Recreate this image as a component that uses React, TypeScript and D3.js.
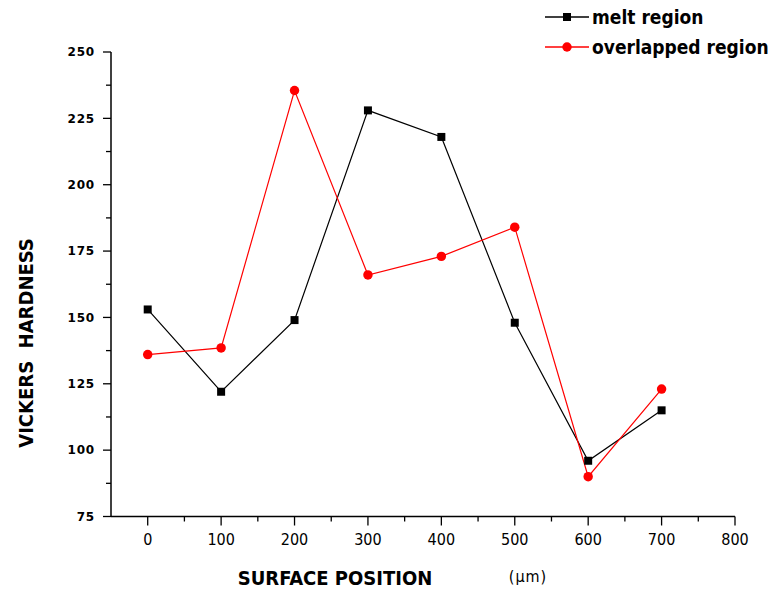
import React, { useRef, useEffect } from 'react';
import * as d3 from 'd3';

const positions = [0, 100, 200, 300, 400, 500, 600, 700];
const meltRegion = [153, 122, 149, 228, 218, 148, 96, 115];
const overlappedRegion = [136, 138.5, 235.5, 166, 173, 184, 90, 123];
const xTicks = [0, 100, 200, 300, 400, 500, 600, 700, 800];
const yTicks = [75, 100, 125, 150, 175, 200, 225, 250];

const App = () => {
  const d3Container = useRef(null);

  useEffect(() => {
    if (!d3Container.current) return;
    d3.select(d3Container.current).select('svg').remove();

    const width = 771;
    const height = 592;
    const font = '"DejaVu Sans Condensed", "Liberation Sans Narrow", sans-serif';
    const wide = '"DejaVu Sans", sans-serif';

    const svg = d3.select(d3Container.current)
      .append('svg')
      .attr('width', width)
      .attr('height', height)
      .style('position', 'absolute')
      .style('left', 0)
      .style('top', 0)
      .style('background', '#fff');

    const x = d3.scaleLinear().domain([-50, 800]).range([111, 735]);
    const y = d3.scaleLinear().domain([75, 250]).range([516.5, 52]);

    // x axis
    const xAxis = svg.append('g').attr('transform', `translate(0,${y(75)})`);
    xAxis.append('line')
      .attr('x1', x(-50)).attr('x2', x(800))
      .attr('stroke', '#000').attr('stroke-width', 1.5);
    xAxis.selectAll('.major')
      .data(xTicks)
      .enter().append('line')
      .attr('x1', d => x(d)).attr('x2', d => x(d))
      .attr('y1', 0).attr('y2', 9)
      .attr('stroke', '#000').attr('stroke-width', 1.3);
    xAxis.selectAll('.minor')
      .data(xTicks.slice(0, -1).map(d => d + 50))
      .enter().append('line')
      .attr('x1', d => x(d)).attr('x2', d => x(d))
      .attr('y1', 0).attr('y2', 5)
      .attr('stroke', '#000').attr('stroke-width', 1.3);
    xAxis.selectAll('text')
      .data(xTicks)
      .enter().append('text')
      .attr('x', d => x(d))
      .attr('y', 28.5)
      .attr('text-anchor', 'middle')
      .style('font-family', font)
      .style('font-size', '16px')
      .text(d => d);

    // y axis
    const yAxis = svg.append('g').attr('transform', `translate(${x(-50)},0)`);
    yAxis.append('line')
      .attr('y1', y(75)).attr('y2', y(250))
      .attr('stroke', '#000').attr('stroke-width', 1.5);
    yAxis.selectAll('.major')
      .data(yTicks)
      .enter().append('line')
      .attr('y1', d => y(d)).attr('y2', d => y(d))
      .attr('x1', 0).attr('x2', -8)
      .attr('stroke', '#000').attr('stroke-width', 1.3);
    yAxis.selectAll('.minor')
      .data(yTicks.slice(0, -1).map(d => d + 12.5))
      .enter().append('line')
      .attr('y1', d => y(d)).attr('y2', d => y(d))
      .attr('x1', 0).attr('x2', -5)
      .attr('stroke', '#000').attr('stroke-width', 1.3);
    yAxis.selectAll('text')
      .data(yTicks)
      .enter().append('text')
      .attr('x', -16)
      .attr('y', d => y(d))
      .attr('dy', '0.36em')
      .attr('text-anchor', 'end')
      .style('font-family', wide)
      .style('font-weight', 'bold')
      .style('letter-spacing', '0.8px')
      .style('font-size', '12px')
      .text(d => d);

    // axis titles
    svg.append('text')
      .attr('x', 335).attr('y', 585)
      .attr('text-anchor', 'middle')
      .style('font-family', font)
      .style('font-weight', 'bold')
      .style('font-size', '20px')
      .text('SURFACE POSITION');
    svg.append('text')
      .attr('x', 528).attr('y', 582)
      .attr('text-anchor', 'middle')
      .style('font-family', font)
      .style('font-size', '16px')
      .style('letter-spacing', '1px')
      .text('(µm)');
    svg.append('text')
      .attr('transform', 'translate(33,343) rotate(-90)')
      .attr('text-anchor', 'middle')
      .style('font-family', font)
      .style('font-weight', 'bold')
      .style('font-size', '20px')
      .style('white-space', 'pre')
      .text('VICKERS  HARDNESS');

    const line = d3.line<number>()
      .x((d, i) => x(positions[i]))
      .y(d => y(d));

    svg.append('path')
      .datum(meltRegion)
      .attr('fill', 'none')
      .attr('stroke', '#000')
      .attr('stroke-width', 1.2)
      .attr('d', line);
    svg.append('path')
      .datum(overlappedRegion)
      .attr('fill', 'none')
      .attr('stroke', '#ff0000')
      .attr('stroke-width', 1.2)
      .attr('d', line);

    const square = d3.symbol().type(d3.symbolSquare).size(64);
    const diamond = d3.symbol().type(d3.symbolCircle).size(70);

    svg.selectAll('.melt')
      .data(meltRegion)
      .enter().append('path')
      .attr('d', square)
      .attr('transform', (d, i) => `translate(${x(positions[i])},${y(d)})`)
      .attr('fill', '#000');
    svg.selectAll('.over')
      .data(overlappedRegion)
      .enter().append('path')
      .attr('d', diamond)
      .attr('transform', (d, i) => `translate(${x(positions[i])},${y(d)})`)
      .attr('fill', '#ff0000');

    // legend
    const legend = svg.append('g');
    legend.append('line')
      .attr('x1', 545).attr('x2', 589).attr('y1', 17).attr('y2', 17)
      .attr('stroke', '#000').attr('stroke-width', 1.5);
    legend.append('path')
      .attr('d', square)
      .attr('transform', 'translate(567,17)')
      .attr('fill', '#000');
    legend.append('text')
      .attr('x', 592).attr('y', 17).attr('dy', '0.36em')
      .style('font-family', font)
      .style('font-weight', 'bold')
      .style('font-size', '19px')
      .text('melt region');
    legend.append('line')
      .attr('x1', 545).attr('x2', 589).attr('y1', 47).attr('y2', 47)
      .attr('stroke', '#ff0000').attr('stroke-width', 1.5);
    legend.append('path')
      .attr('d', diamond)
      .attr('transform', 'translate(567,47)')
      .attr('fill', '#ff0000');
    legend.append('text')
      .attr('x', 592).attr('y', 47).attr('dy', '0.36em')
      .style('font-family', font)
      .style('font-weight', 'bold')
      .style('font-size', '19px')
      .text('overlapped region');
  }, []);

  return <div className="chart-container" ref={d3Container}></div>;
};

export default App;
